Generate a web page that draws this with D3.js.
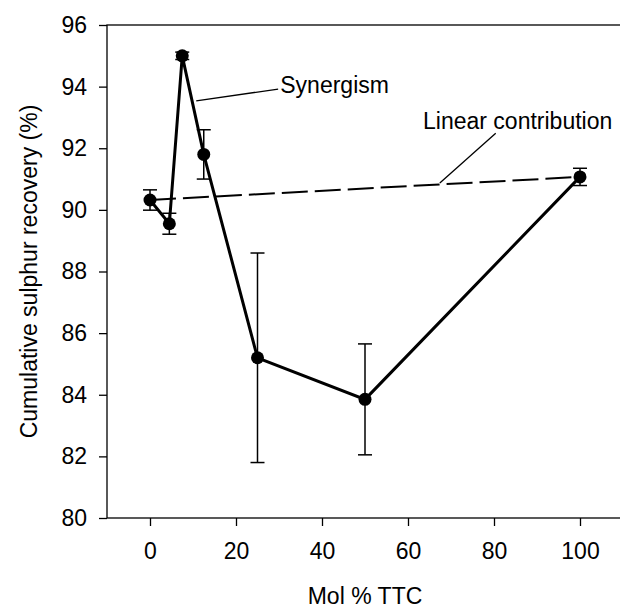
<!DOCTYPE html>
<html>
<head>
<meta charset="utf-8">
<script src="https://cdn.jsdelivr.net/npm/d3@7"></script>
<style>
  body { margin: 0; background: #fff; }
  text { font-family: "Liberation Sans", Arial, sans-serif; }
</style>
</head>
<body>
<svg id="chart" width="620" height="608"></svg>
<script>
"use strict";

// data
var molTTC = [0, 4.5, 7.5, 12.5, 25, 50, 100]
var recovery = [90.32, 89.55, 95.0, 91.8, 85.2, 83.85, 91.07]
var errors = [0.33, 0.34, 0.12, 0.8, 3.4, 1.8, 0.28]
var linearX = [0, 100]
var linearY = [90.32, 91.07]
var xTicks = [0, 20, 40, 60, 80, 100]
var yTicks = [80, 82, 84, 86, 88, 90, 92, 94, 96]

var plotLeft = 107, plotRight = 623, plotTop = 25, plotBottom = 518

var svg = d3.select("#chart")

var x = d3.scaleLinear().domain([-10, 110]).range([plotLeft, plotRight])
var y = d3.scaleLinear().domain([80, 96]).range([plotBottom, plotTop])

var points = molTTC.map(function(d, i) {
    return { x: d, y: recovery[i], e: errors[i] }
})

// frame (top line, right side runs off the canvas)
svg.append("rect")
    .attr("x", plotLeft).attr("y", plotTop)
    .attr("width", plotRight - plotLeft).attr("height", plotBottom - plotTop)
    .attr("fill", "none").attr("stroke", "#000").attr("stroke-width", 1.3)

svg.append("g")
    .attr("transform", "translate(0," + plotBottom + ")")
    .call(d3.axisBottom(x).tickValues(xTicks).tickSize(8).tickPadding(17))
svg.append("g")
    .attr("transform", "translate(" + plotLeft + ",0)")
    .call(d3.axisLeft(y).tickValues(yTicks).tickSize(8).tickPadding(12))

svg.selectAll(".domain").remove()
svg.selectAll(".tick line").attr("stroke", "#000").attr("stroke-width", 1.3)
svg.selectAll(".tick text")
    .attr("fill", "#000")
    .style("font-size", "23px")
    .style("font-family", "'Liberation Sans', Arial, sans-serif")

// axis titles
svg.append("text")
    .attr("x", x(50)).attr("y", 604)
    .attr("text-anchor", "middle")
    .style("font-size", "23px")
    .text("Mol % TTC")

svg.append("text")
    .attr("transform", "translate(37," + ((plotTop + plotBottom) / 2) + ") rotate(-90)")
    .attr("text-anchor", "middle")
    .style("font-size", "23px")
    .text("Cumulative sulphur recovery (%)")

// linear contribution (dashed)
var lin = linearX.map(function(d, i) { return [d, linearY[i]] })
svg.append("path")
    .datum(lin)
    .attr("d", d3.line().x(function(d) { return x(d[0]) }).y(function(d) { return y(d[1]) }))
    .attr("fill", "none").attr("stroke", "#000")
    .attr("stroke-width", 2).attr("stroke-dasharray", "26,7")

// error bars
var capW = 7
var eb = svg.append("g").attr("stroke", "#000").attr("stroke-width", 1.5)
points.forEach(function(p) {
    eb.append("line")
        .attr("x1", x(p.x)).attr("x2", x(p.x))
        .attr("y1", y(p.y - p.e)).attr("y2", y(p.y + p.e))
    eb.append("line")
        .attr("x1", x(p.x) - capW).attr("x2", x(p.x) + capW)
        .attr("y1", y(p.y + p.e)).attr("y2", y(p.y + p.e))
    eb.append("line")
        .attr("x1", x(p.x) - capW).attr("x2", x(p.x) + capW)
        .attr("y1", y(p.y - p.e)).attr("y2", y(p.y - p.e))
})

// main line + markers
svg.append("path")
    .datum(points)
    .attr("d", d3.line().x(function(d) { return x(d.x) }).y(function(d) { return y(d.y) }))
    .attr("fill", "none").attr("stroke", "#000").attr("stroke-width", 3)

svg.selectAll("circle.pt")
    .data(points).enter().append("circle")
    .attr("class", "pt")
    .attr("cx", function(d) { return x(d.x) })
    .attr("cy", function(d) { return y(d.y) })
    .attr("r", 6.5)
    .attr("fill", "#000")

// annotations
svg.append("line")
    .attr("x1", x(10.75)).attr("y1", y(93.54))
    .attr("x2", x(29.8)).attr("y2", y(93.92))
    .attr("stroke", "#000").attr("stroke-width", 1.3)
svg.append("text")
    .attr("x", x(30.3)).attr("y", y(93.79))
    .style("font-size", "23px")
    .text("Synergism")

svg.append("line")
    .attr("x1", x(67.4)).attr("y1", y(90.87))
    .attr("x2", x(80.4)).attr("y2", y(92.49))
    .attr("stroke", "#000").attr("stroke-width", 1.3)
svg.append("text")
    .attr("x", x(63.5)).attr("y", y(92.62))
    .style("font-size", "23px")
    .text("Linear contribution")
</script>
</body>
</html>
